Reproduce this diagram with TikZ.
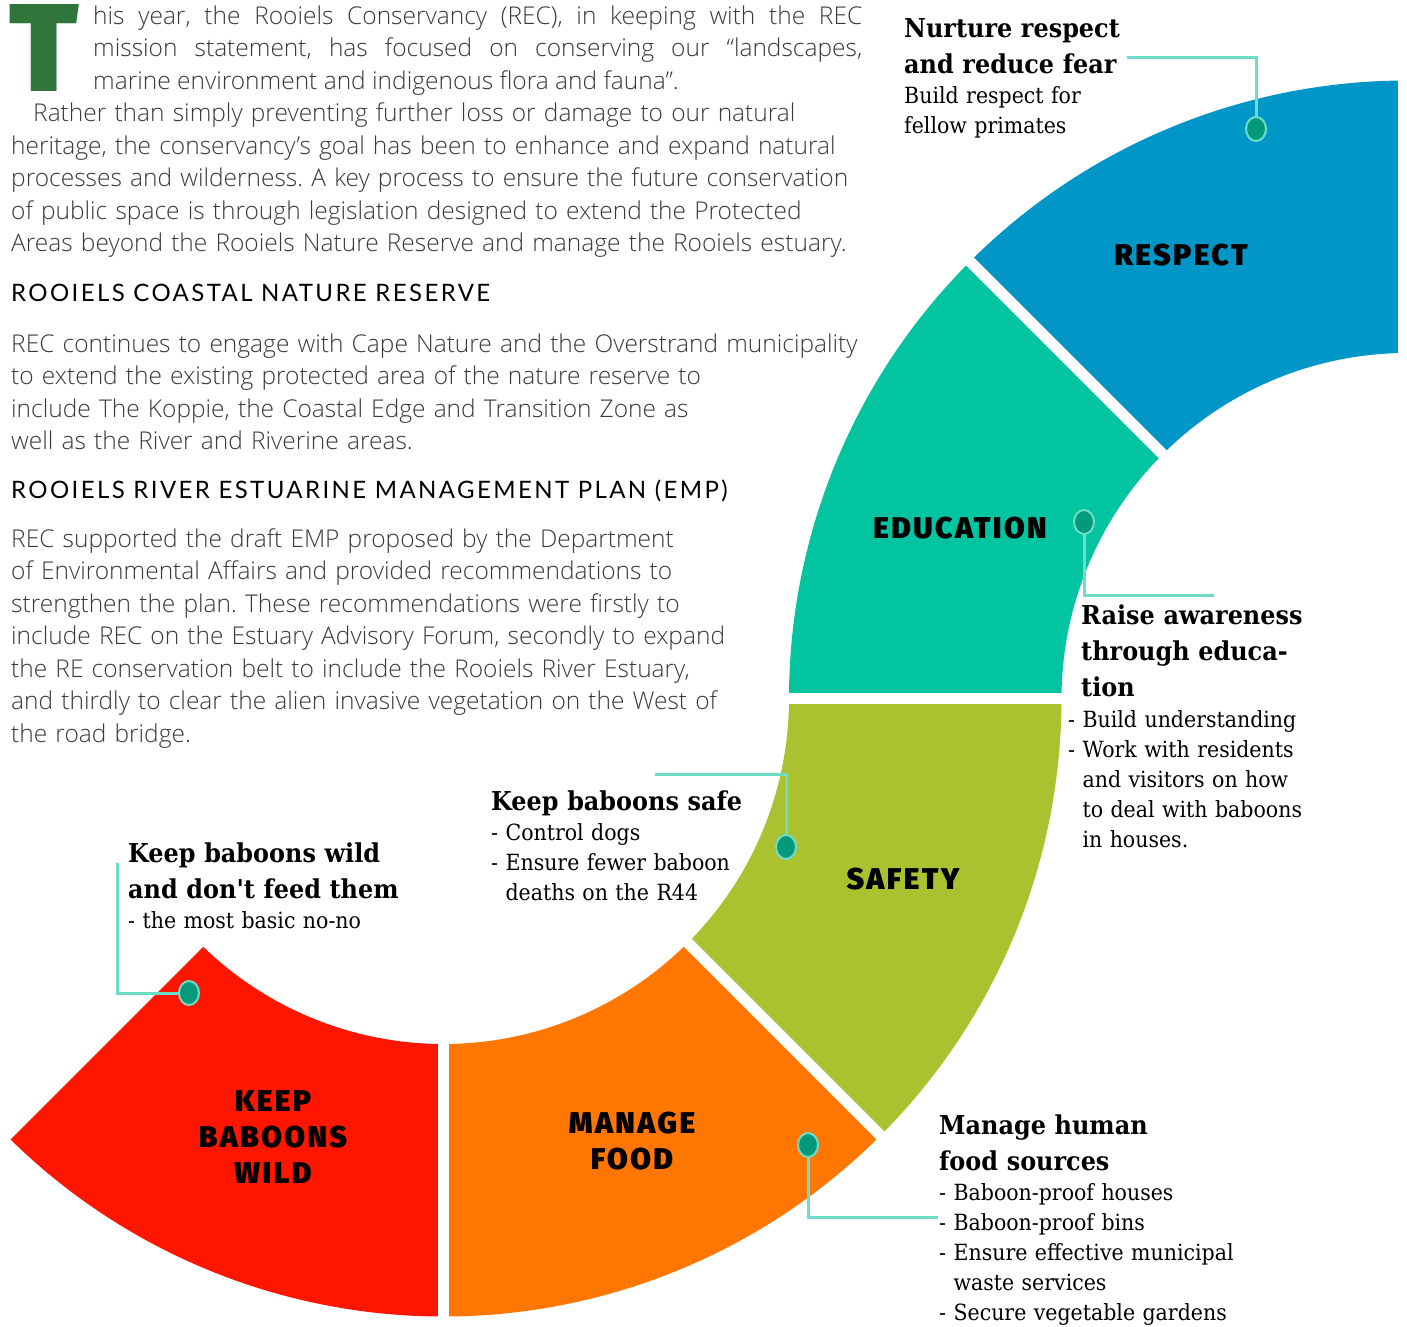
\documentclass[tikz,border=0pt]{standalone}
\usepackage{fontspec}
\usetikzlibrary{shapes.geometric}
\newfontfamily\bodyfont{Open Sans Light}
\newfontfamily\headfont{Lato}[LetterSpace=10]
\newfontfamily\calloutfont{DejaVu Serif}[FakeStretch=0.92]
\newfontfamily\sectorfont{Fira Sans Black}[LetterSpace=8]
\definecolor{bodygray}{HTML}{3A3A3A}
\definecolor{dropgreen}{HTML}{30763A}
\definecolor{linkteal}{HTML}{6EDDC8}
\definecolor{dotgreen}{HTML}{04997A}
\definecolor{respblue}{HTML}{0096C8}
\definecolor{eduteal}{HTML}{03C4A0}
\definecolor{safegreen}{HTML}{ABC12F}
\definecolor{foodorange}{HTML}{FF7700}
\definecolor{keepred}{HTML}{FF1600}
\begin{document}
\frenchspacing
\begin{tikzpicture}[x=1pt, y=-1pt,
    body/.style={anchor=base west, inner sep=0pt, text width=1000pt, align=left,
      text=bodygray, font=\bodyfont\fontsize{24.5}{32.5}\selectfont},
    heading/.style={anchor=base west, inner sep=0pt, text=black,
      font=\headfont\fontsize{24}{28}\selectfont},
    callhead/.style={anchor=base west, inner sep=0pt, text width=340pt, align=left,
      font=\calloutfont\bfseries\fontsize{26}{36}\selectfont},
    calltext/.style={anchor=base west, inner sep=0pt, text width=340pt, align=left,
      font=\calloutfont\fontsize{22.3}{30}\selectfont},
    seclabel/.style={align=center, inner sep=0pt,
      font=\sectorfont\fontsize{30}{36}\selectfont},
    leader/.style={draw=linkteal, line width=3pt},
    pin/.style={ellipse, fill=dotgreen, draw=linkteal, line width=2pt,
      minimum width=20pt, minimum height=24pt, inner sep=0pt},
    gap/.style={draw=white, line width=11pt}]
\useasboundingbox (0,0) rectangle (1407,1326);

%the S shaped ring
\foreach \cx/\a/\b/\col in {443.5/90/135/keepred, 443.5/45/90/foodorange,
    443.5/0/45/safegreen, 1407/180/225/eduteal, 1407/225/270/respblue}{
  \fill[\col, shift={(\cx,698.5)}] (\a:618) arc[start angle=\a, end angle=\b, radius=618]
    -- (\b:345.5) arc[start angle=\b, end angle=\a, radius=345.5] -- cycle;
}
\foreach \a in {45, 90, 135}{
  \draw[gap, shift={(443.5,698.5)}] (\a:335) -- (\a:630);
}
\draw[gap, shift={(1407,698.5)}] (225:335) -- (225:630);
\draw[gap] (780,698.5) -- (1070,698.5);
\draw[gap, line width=18pt] (1407,60) -- (1407,370);

%sector labels
\node[seclabel] (respect) at (1181,255) {RESPECT};
\node[seclabel] (education) at (960,528) {EDUCATION};
\node[seclabel] (safety) at (903,879) {SAFETY};
\node[seclabel] (food) at (632,1141) {MANAGE\\FOOD};
\node[seclabel] (wild) at (273,1137) {KEEP\\BABOONS\\WILD};

%article text
\node[anchor=north west, inner sep=0pt, text depth=0pt, text=dropgreen,
  font=\sectorfont\fontsize{125}{125}\selectfont] (dropT) at (9,4) {T};
\node[body, text width=769pt, align=justify] (intro) at (93,24)
  {his year, the Rooiels Conservancy (REC), in keeping with the REC\linebreak
   mission statement, has focused on conserving our “landscapes,\linebreak
   marine environment and indigenous flora and fauna”.};
\node[body] (goal) at (11,121.5)
  {\hspace*{22pt}Rather than simply preventing further loss or damage to our natural\\
   heritage, the conservancy’s goal has been to enhance and expand natural\\
   processes and wilderness. A key process to ensure the future conservation\\
   of public space is through legislation designed to extend the Protected\\
   Areas beyond the Rooiels Nature Reserve and manage the Rooiels estuary.};
\node[heading] (coastal) at (11,301) {ROOIELS COASTAL NATURE RESERVE};
\node[body] (reserve) at (11,352)
  {REC continues to engage with Cape Nature and the Overstrand municipality\\
   to extend the existing protected area of the nature reserve to\\
   include The Koppie, the Coastal Edge and Transition Zone as\\
   well as the River and Riverine areas.};
\node[heading] (estuary) at (11,498) {ROOIELS RIVER ESTUARINE MANAGEMENT PLAN (EMP)};
\node[body] (emp) at (11,547)
  {REC supported the draft EMP proposed by the Department\\
   of Environmental Affairs and provided recommendations to\\
   strengthen the plan. These recommendations were firstly to\\
   include REC on the Estuary Advisory Forum, secondly to expand\\
   the RE conservation belt to include the Rooiels River Estuary,\\
   and thirdly to clear the alien invasive vegetation on the West of\\
   the road bridge.};

%callouts
\node[callhead] (resphead) at (904,37) {Nurture respect\\and reduce fear};
\node[calltext] (resptext) at (904,103) {Build respect for\\fellow primates};
\node[callhead] (eduhead) at (1081,624) {Raise awareness\\through educa-\\tion};
\node[calltext] (edutext) at (1068,727) {- Build understanding\\- Work with residents\\
  \phantom{- }and visitors on how\\\phantom{- }to deal with baboons\\\phantom{- }in houses.};
\node[callhead] (safehead) at (491,810) {Keep baboons safe};
\node[calltext] (safetext) at (491,840) {- Control dogs\\- Ensure fewer baboon\\
  \phantom{- }deaths on the R44};
\node[callhead] (wildhead) at (128,862) {Keep baboons wild\\and don't feed them};
\node[calltext] (wildtext) at (128,928) {- the most basic no-no};
\node[callhead] (foodhead) at (939,1134) {Manage human\\food sources};
\node[calltext] (foodtext) at (939,1200) {- Baboon-proof houses\\- Baboon-proof bins\\
  - Ensure effective municipal\\\phantom{- }waste services\\- Secure vegetable gardens};

%leader lines and pins
\coordinate (lk1) at (1127,57);
\coordinate (lk2) at (1214,595);
\coordinate (lk3) at (655,774);
\coordinate (lk4) at (117,863);
\coordinate (lk5) at (938,1217);
\node[pin] (pin1) at (1256,129) {};
\node[pin] (pin2) at (1084,522) {};
\node[pin] (pin3) at (786,847) {};
\node[pin] (pin4) at (189,993) {};
\node[pin] (pin5) at (808,1145) {};
\draw[leader] (lk1) -| (pin1);
\draw[leader] (pin2) |- (lk2);
\draw[leader] (lk3) -| (pin3);
\draw[leader] (lk4) |- (pin4);
\draw[leader] (pin5) |- (lk5);
\end{tikzpicture}
\end{document}
